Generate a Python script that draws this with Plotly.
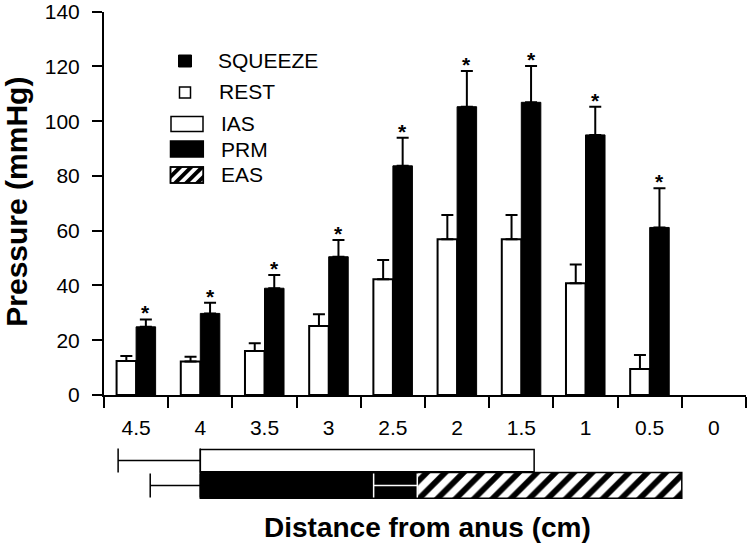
import plotly.graph_objects as go

# ---------------- data ----------------
categories = ["4.5", "4", "3.5", "3", "2.5", "2", "1.5", "1", "0.5", "0"]
rest = [12.4, 12.2, 16.1, 25.2, 42.3, 56.9, 56.9, 40.8, 9.5, None]
rest_err = [1.8, 1.8, 2.8, 4.3, 7.0, 8.8, 8.8, 6.9, 5.1, None]
squeeze = [24.9, 29.8, 39.0, 50.5, 83.7, 105.3, 106.9, 95.0, 61.2, None]
squeeze_err = [2.7, 3.9, 4.8, 6.1, 10.3, 13.0, 13.3, 10.3, 14.3, None]
significant = [True, True, True, True, True, True, True, True, True, False]

# muscle extent along the canal (cm from anus)
muscles = ["IAS", "PRM", "EAS"]
muscle_distal = [1.40, 2.31, 0.25]
muscle_proximal = [4.00, 4.00, 2.31]
muscle_sd = [0.64, 0.39, 0.34]

# ---------------- geometry helpers ----------------
W, H = 750, 547
ML = 104
PW = 642
MR = W - ML - PW
FONT = "Liberation Sans, Arial, Helvetica, sans-serif"


def px(x):
    return (x - ML) / PW


def py(y):
    return 1 - y / H


fig = go.Figure()

BW = 0.304
fig.add_trace(go.Bar(
    x=categories, y=rest, name="REST", offset=-BW, width=BW,
    marker=dict(color="white", line=dict(color="black", width=2)),
    error_y=dict(type="data", symmetric=False, array=rest_err,
                 arrayminus=[0] * len(rest), color="black", thickness=2, width=6),
    showlegend=False,
))
fig.add_trace(go.Bar(
    x=categories, y=squeeze, name="SQUEEZE", offset=0, width=BW,
    marker=dict(color="black", line=dict(color="black", width=1)),
    error_y=dict(type="data", symmetric=False, array=squeeze_err,
                 arrayminus=[0] * len(squeeze), color="black", thickness=2, width=6),
    showlegend=False,
))

# asterisks
for i, (v, e, s) in enumerate(zip(squeeze, squeeze_err, significant)):
    if s and v is not None:
        fig.add_annotation(x=i + BW / 2, y=v + e, xref="x", yref="y", text="<b>*</b>",
                           showarrow=False, yanchor="bottom", yshift=-7,
                           font=dict(family=FONT, size=21, color="black"))

# muscle bars (bottom panel)
row_pos = {"IAS": 1.46, "PRM": 0.54, "EAS": 0.54}
row_w = {"IAS": 0.83, "PRM": 0.95, "EAS": 0.95}
styles = {
    "IAS": dict(color="white", line=dict(color="black", width=1.5)),
    "PRM": dict(color="black", line=dict(color="black", width=1.5)),
    "EAS": dict(color="white", line=dict(color="black", width=1.5),
                pattern=dict(shape="/", fgcolor="black", bgcolor="white",
                             size=13, solidity=0.45, fillmode="replace")),
}
err_col = {"IAS": "black", "PRM": "black", "EAS": "white"}
for m, d0, d1, sd in zip(muscles, muscle_distal, muscle_proximal, muscle_sd):
    w = row_w[m]
    fig.add_trace(go.Bar(
        orientation="h", y=[row_pos[m]], x=[d1 - d0], base=[d0],
        width=[w], offset=[-w / 2], name=m,
        marker=styles[m],
        error_x=dict(type="data", symmetric=False, array=[sd], arrayminus=[0],
                     color=err_col[m], thickness=1.5, width=12),
        xaxis="x2", yaxis="y2", showlegend=False,
    ))

fig.update_layout(
    width=W, height=H,
    margin=dict(l=ML, r=MR, t=0, b=0, pad=0),
    paper_bgcolor="white", plot_bgcolor="white",
    barmode="overlay",
    font=dict(family=FONT, size=21, color="black"),
    xaxis=dict(type="category", categoryorder="array", categoryarray=categories,
               range=[-0.5, len(categories) - 0.5], domain=[0, 1], anchor="y",
               tickson="boundaries", ticks="outside", ticklen=11, tickwidth=2,
               tickcolor="black", showline=True, linewidth=2, linecolor="black",
               showgrid=False, zeroline=False, ticklabelstandoff=13,
               tickfont=dict(size=21), automargin=False, fixedrange=True),
    yaxis=dict(range=[0, 140], dtick=20, domain=[py(395), py(11.7)], anchor="x",
               ticks="outside", ticklen=10, tickwidth=2, tickcolor="black",
               showline=True, linewidth=2, linecolor="black", showgrid=False,
               zeroline=False, ticklabelstandoff=8, tickfont=dict(size=21),
               ticklabeloverflow="allow", automargin=False, fixedrange=True),
    xaxis2=dict(range=[4.75, -0.25], domain=[0, 1], anchor="y2", visible=False,
                fixedrange=True),
    yaxis2=dict(range=[0, 2], domain=[py(500), py(446)], anchor="x2",
                visible=False, fixedrange=True),
)

# axis titles
fig.add_annotation(x=px(17), y=py(201.7), xref="paper", yref="paper",
                   text="<b>Pressure (mmHg)</b>", textangle=-90, showarrow=False,
                   xanchor="center", yanchor="middle",
                   font=dict(family=FONT, size=30, color="black"))
fig.add_annotation(x=px(428), y=py(527), xref="paper", yref="paper",
                   text="<b>Distance from anus (cm)</b>", showarrow=False,
                   xanchor="center", yanchor="middle",
                   font=dict(family=FONT, size=28, color="black"))

# ---------------- manual legend ----------------
def rect(x0, y0, x1, y1, fill, lw=1.5):
    fig.add_shape(type="rect", xref="paper", yref="paper",
                  x0=px(x0), x1=px(x1), y0=py(y1), y1=py(y0),
                  fillcolor=fill, line=dict(color="black", width=lw))


rect(178.5, 55, 191.5, 67, "black", 1)
rect(179.5, 87, 190.5, 98, "white", 1.5)
rect(171, 116.5, 203, 131.5, "white", 1.5)
rect(170.5, 141, 203.3, 157, "black", 1.5)
ex0, ey0, ex1, ey1 = 170.5, 167, 203.3, 183
rect(ex0, ey0, ex1, ey1, "white", 1.5)


def clip(poly, a, b, c):
    # keep points with a*x + b*y <= c
    out = []
    n = len(poly)
    for k in range(n):
        p, q = poly[k], poly[(k + 1) % n]
        fp = a * p[0] + b * p[1] - c
        fq = a * q[0] + b * q[1] - c
        if fp <= 0:
            out.append(p)
        if fp * fq < 0:
            t = fp / (fp - fq)
            out.append((p[0] + t * (q[0] - p[0]), p[1] + t * (q[1] - p[1])))
    return out


base_poly = [(ex0, ey0), (ex1, ey0), (ex1, ey1), (ex0, ey1)]
period, sw = 11.0, 5.5
s0 = ex0 + ey0 - 4
while s0 < ex1 + ey1:
    poly = clip(base_poly, -1, -1, -s0)
    poly = clip(poly, 1, 1, s0 + sw)
    if len(poly) >= 3:
        path = "M " + " L ".join(f"{px(x):.5f},{py(y):.5f}" for x, y in poly) + " Z"
        fig.add_shape(type="path", path=path, xref="paper", yref="paper",
                      fillcolor="black", line=dict(width=0))
    s0 += period
fig.add_shape(type="rect", xref="paper", yref="paper", x0=px(ex0), x1=px(ex1),
              y0=py(ey1), y1=py(ey0), line=dict(color="black", width=1.5))

legend_text = [("SQUEEZE", 215.5, 60.5), ("REST", 217, 91), ("IAS", 218.5, 123.5),
               ("PRM", 218.5, 149), ("EAS", 218.5, 174.5)]
for t, x, y in legend_text:
    fig.add_annotation(x=px(x), y=py(y), xref="paper", yref="paper", text=t,
                       showarrow=False, xanchor="left", yanchor="middle",
                       font=dict(family=FONT, size=21, color="black"))

fig.write_html("out.html", config={"displayModeBar": False},
               post_script="document.body.style.margin='0';document.body.style.overflow='hidden';")
